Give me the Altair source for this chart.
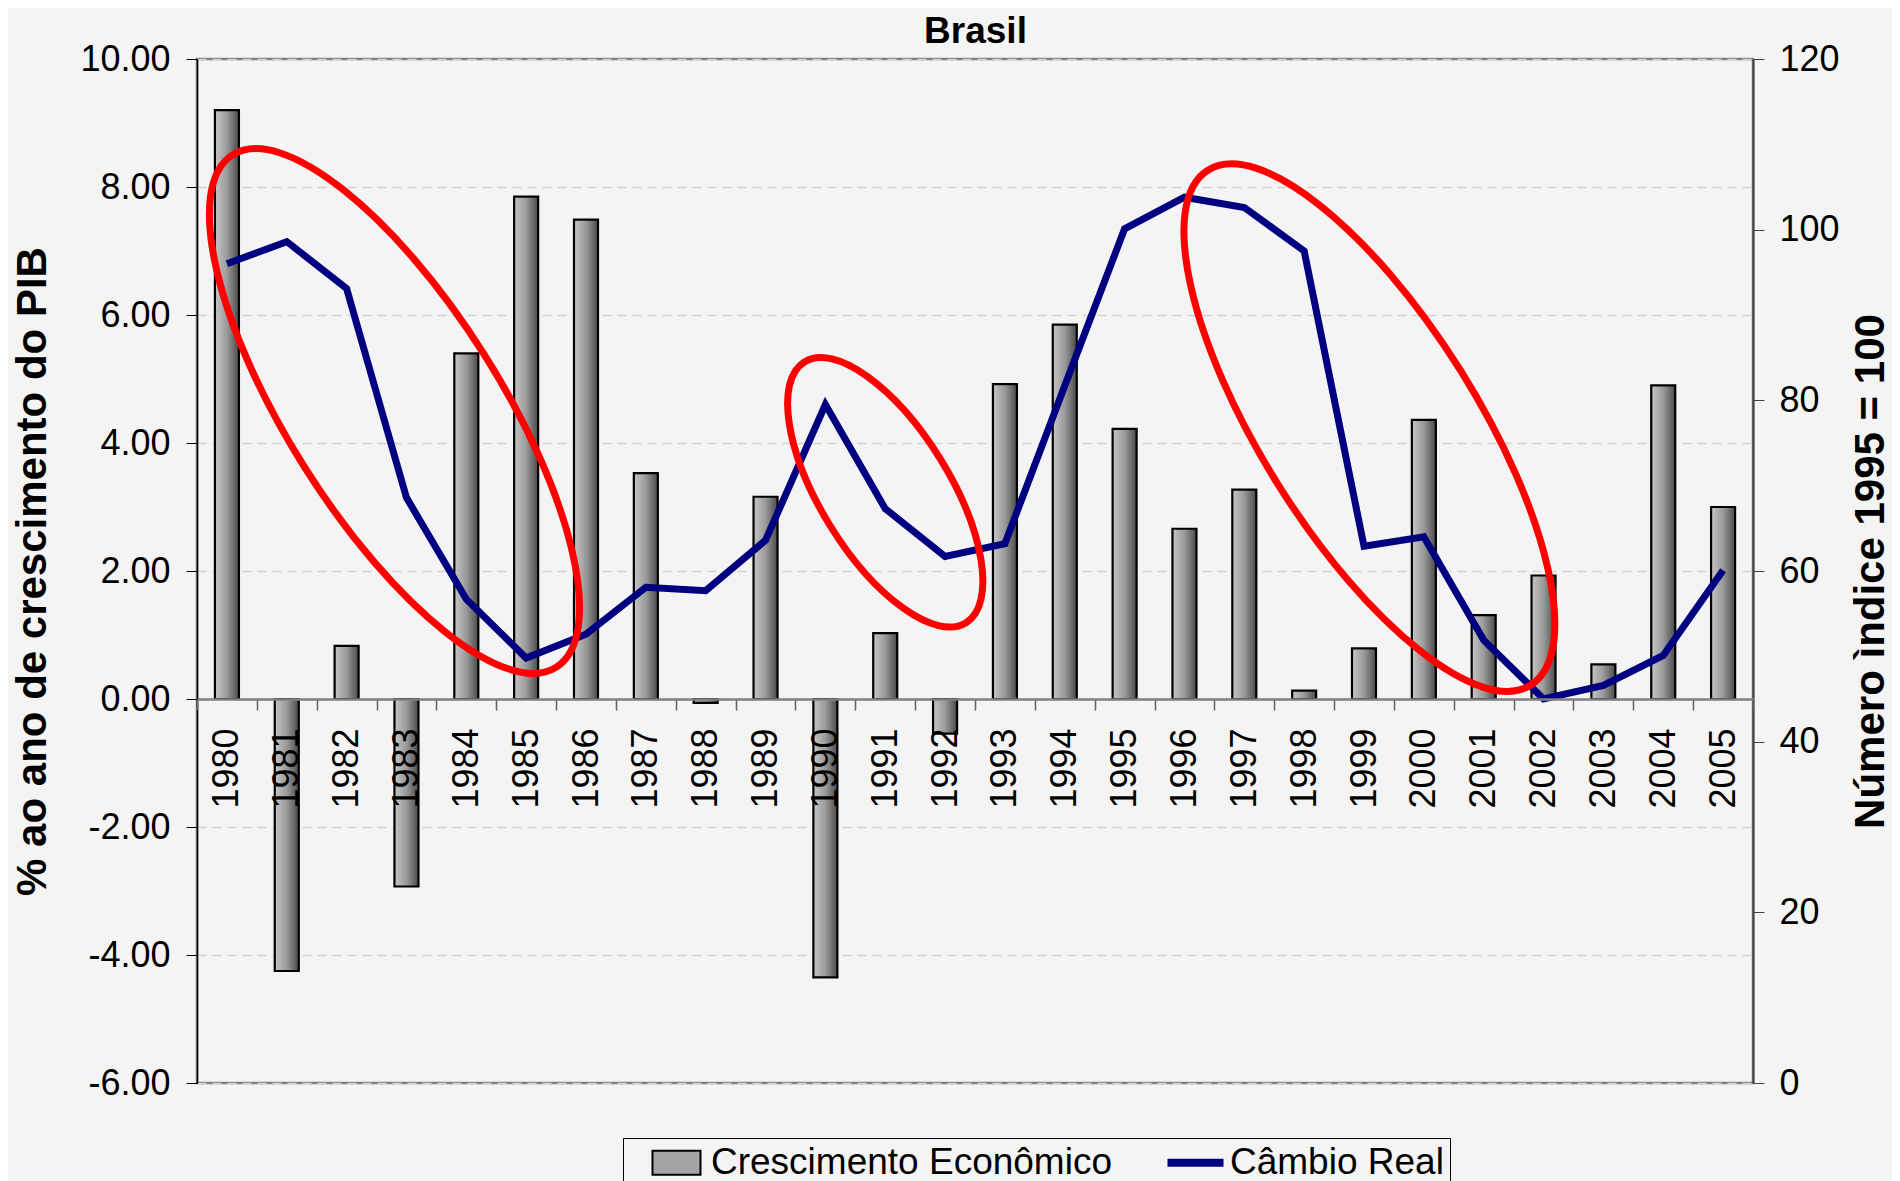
import altair as alt
import pandas as pd

# ---- data ----
years = [str(y) for y in range(1980, 2006)]
gdp_growth = [9.20, -4.25, 0.83, -2.93, 5.40, 7.85, 7.49, 3.53, -0.06, 3.16,
              -4.35, 1.03, -0.54, 4.92, 5.85, 4.22, 2.66, 3.27, 0.13, 0.79,
              4.36, 1.31, 1.93, 0.54, 4.90, 3.00]
cambio_real = [96.0, 98.6, 93.1, 68.6, 56.7, 49.8, 52.6, 58.1, 57.7, 63.6,
               79.5, 67.3, 61.7, 63.2, 81.7, 100.1, 103.8, 102.6, 97.5, 62.9,
               64.0, 51.9, 45.0, 46.6, 50.1, 60.1]

# red highlight ellipses: centre (band units, left-axis value), long-axis length^2, angle, axis ratio
ell_center_band = [3.30, 11.50, 19.59]
ell_center_value = [4.50, 3.23, 4.24]
ell_size = [367236, 94126, 369425]
ell_angle = [57.7, 58.2, 57.9]
ell_ratio = [0.350, 0.420, 0.354]

chart_title = "Brasil"
series_names = ["Crescimento Econômico", "Câmbio Real"]
legend_shapes = ["M-2,-1H2V1H-2Z", "M-2.25,-0.25H2.25V0.25H-2.25Z"]

W, H = 1556, 1024
FONT = "Liberation Sans"

df = pd.DataFrame({"year": years, "gdp": gdp_growth, "cambio": cambio_real})
ell = pd.DataFrame({
    "u": ell_center_band,
    "v": ell_center_value,
    "size": ell_size,
    "angle": ell_angle,
})
leg = pd.DataFrame({"series": series_names})

xscale = alt.Scale(paddingInner=0, paddingOuter=0)

bars = alt.Chart(df).mark_bar(
    width=24,
    fill=alt.Gradient(
        gradient="linear", x1=0, x2=1, y1=0, y2=0,
        stops=[alt.GradientStop(color="#c6c6c6", offset=0),
               alt.GradientStop(color="#9a9a9a", offset=0.5),
               alt.GradientStop(color="#4a4a4a", offset=1)]),
    stroke="black", strokeWidth=2.2,
).encode(
    x=alt.X("year:O", scale=xscale, title=None,
            axis=alt.Axis(offset=-384, labelAngle=270, labelFontSize=36, labelFont=FONT,
                          labelColor="black", labelPadding=18, tickSize=11, tickBand="extent",
                          tickColor="#606060", tickWidth=1.5, domainColor="#808080",
                          domainWidth=2.5, labelOverlap=False, labelFlush=False, zindex=1)),
    y=alt.Y("gdp:Q", scale=alt.Scale(domain=[-6, 10], nice=False, zero=False),
            title="% ao ano de crescimento do PIB",
            axis=alt.Axis(values=[-6, -4, -2, 0, 2, 4, 6, 8, 10],
                          labelExpr="replace(format(datum.value, '.2f'), '\u2212', '-')",
                          labelFontSize=36, labelFont=FONT, labelColor="black",
                          labelPadding=16, tickSize=11, tickColor="black",
                          domainColor="black", domainWidth=1.5,
                          grid=True, gridDash=[9, 6], gridColor="#d2d2d2", gridWidth=1.5,
                          titleFont=FONT, titleFontSize=42, titleFontWeight="bold",
                          titleColor="black", titleAngle=270, titleBaseline="alphabetic",
                          titleAlign="center", titleX=-152, titleY=H / 2)),
)

line = alt.Chart(df).mark_line(color="#000080", strokeWidth=7, strokeJoin="miter").encode(
    x=alt.X("year:O", scale=alt.Scale(type="band", paddingInner=0, paddingOuter=0), axis=None),
    y=alt.Y("cambio:Q", scale=alt.Scale(domain=[0, 120], nice=False),
            title="Número ìndice 1995 = 100",
            axis=alt.Axis(orient="right", values=[0, 20, 40, 60, 80, 100, 120],
                          labelFontSize=36, labelFont=FONT, labelColor="black",
                          labelPadding=15, tickSize=11, tickColor="#404040",
                          domainColor="#404040", domainWidth=2, grid=False,
                          titleFont=FONT, titleFontSize=42, titleFontWeight="bold",
                          titleColor="black", titleAngle=270, titleBaseline="alphabetic",
                          titleAlign="center", titleX=130, titleY=H / 2)),
)

# top axis only carries the chart title "Brasil"
title_axis = alt.Axis(orient="top", labels=False, ticks=False, domain=False, grid=False,
                      titleFont=FONT, titleFontSize=37, titleFontWeight="bold",
                      titleColor="black", titleAlign="center", titleBaseline="alphabetic",
                      titleAngle=0, titleX=W / 2, titleY=-17)

ellipse_layers = []
for i, r in enumerate(ell_ratio):
    path = f"M-1,0A1,{r},0,1,0,1,0A1,{r},0,1,0,-1,0Z"
    ellipse_layers.append(
        alt.Chart(ell.iloc[[i]]).mark_point(
            shape=path, filled=False, color="#ff0000", strokeWidth=7, opacity=1
        ).encode(
            x=alt.X("u:Q", scale=alt.Scale(domain=[0, 26], nice=False, zero=False),
                    title=chart_title if i == 0 else None,
                    axis=title_axis if i == 0 else None),
            y=alt.Y("v:Q", scale=alt.Scale(domain=[-6, 10], nice=False, zero=False), axis=None),
            size=alt.Size("size:Q", scale=None),
            angle=alt.Angle("angle:Q", scale=None),
        )
    )

legend_layer = alt.Chart(leg).mark_point(filled=True, opacity=1).encode(
    fill=alt.Fill("series:N", scale=alt.Scale(domain=series_names, range=["#a4a4a4", "#000080"]),
                  legend=alt.Legend(title=None, orient="none", legendX=426, legendY=1079,
                                    direction="horizontal", labelFontSize=37, labelFont=FONT,
                                    labelColor="black", labelLimit=1000, symbolSize=576,
                                    symbolOffset=29, labelOffset=16, columnPadding=36,
                                    padding=6, strokeColor="black", fillColor="#f4f4f4",
                                    symbolStrokeWidth=2, symbolOpacity=1)),
    stroke=alt.Stroke("series:N", scale=alt.Scale(domain=series_names, range=["#000000", "#000080"])),
    shape=alt.Shape("series:N", scale=alt.Scale(domain=series_names, range=legend_shapes)),
).transform_filter("false")

chart = alt.layer(bars, line, *ellipse_layers, legend_layer).resolve_scale(
    x="independent", y="independent", size="independent", angle="independent"
).properties(
    width=W, height=H,
    autosize=alt.AutoSizeParams(type="none"),
    padding={"left": 189, "top": 51, "right": 139, "bottom": 98},
    background="#f4f4f4",
).configure_view(stroke="#808080", strokeWidth=2.5)

chart.save("out.html", embed_options={"renderer": "svg", "actions": False})
